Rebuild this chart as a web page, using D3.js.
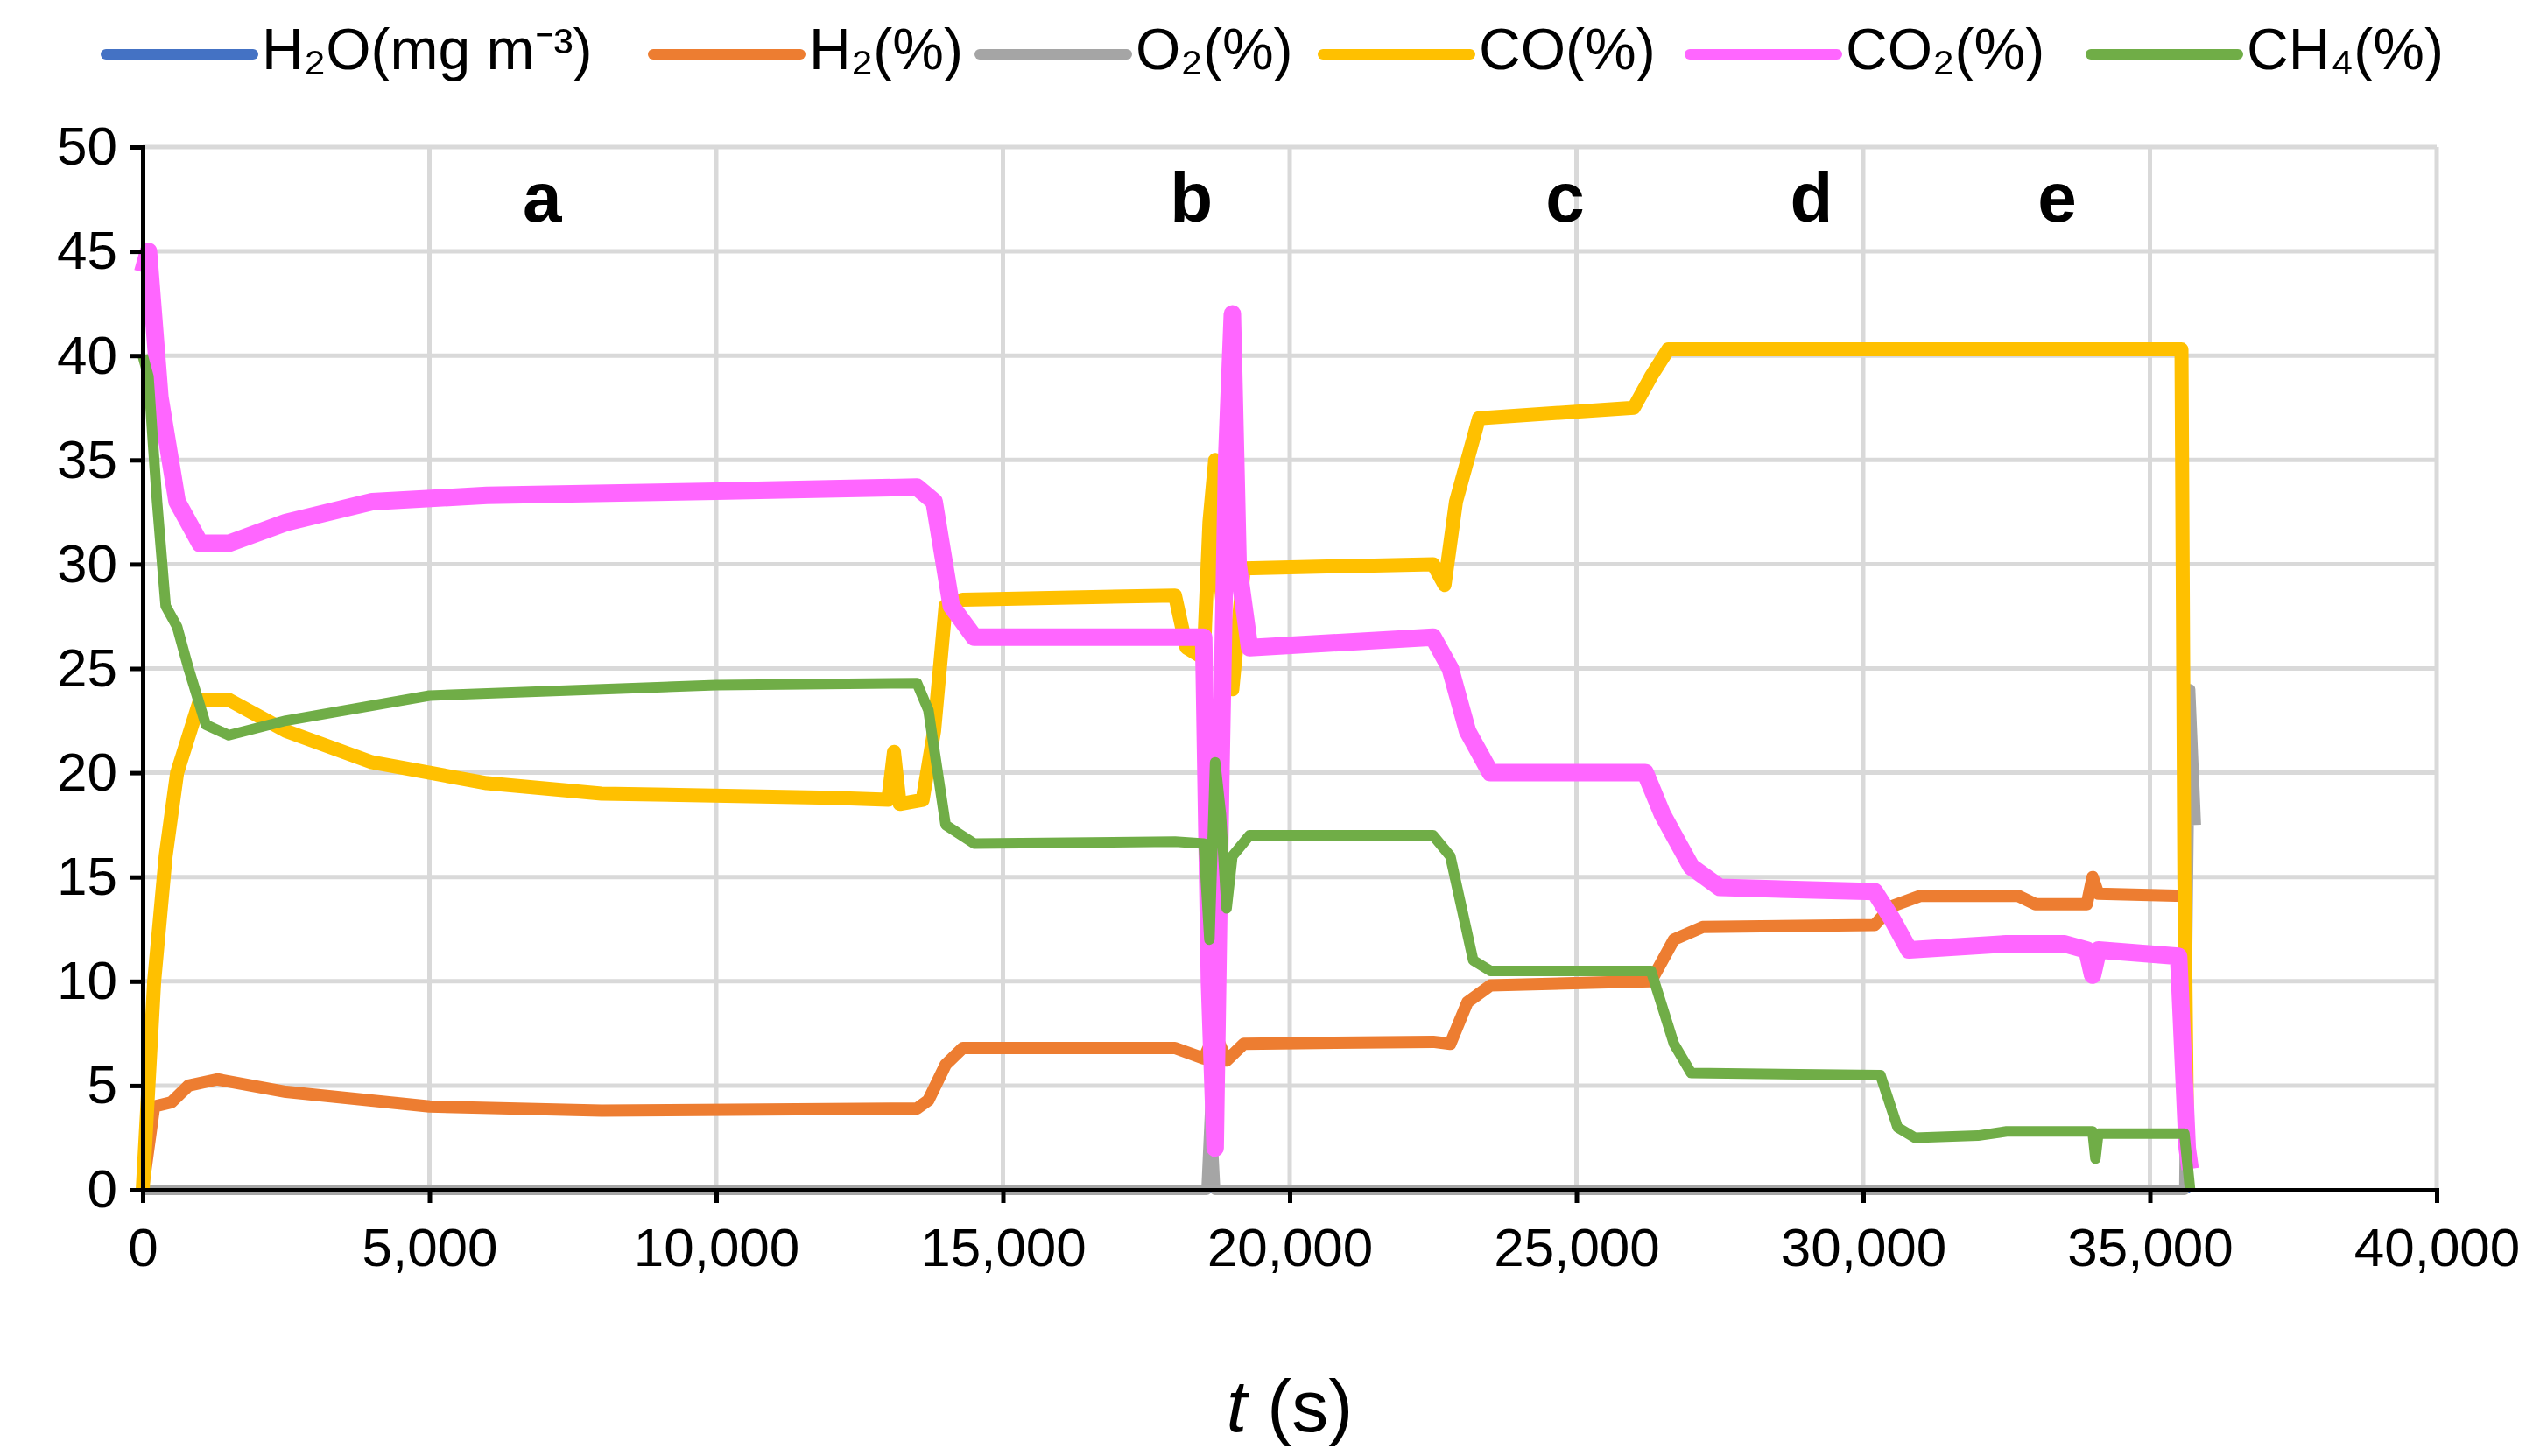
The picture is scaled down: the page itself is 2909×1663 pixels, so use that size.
<!DOCTYPE html>
<html><head><meta charset="utf-8">
<script src="https://cdn.jsdelivr.net/npm/d3@7"></script>
<style>body{margin:0;background:#fff}svg{display:block;font-family:"Liberation Sans",Arial,sans-serif}</style>
</head><body><svg id="c" width="2909" height="1663"></svg>
<script>
const xTicks=[0,5000,10000,15000,20000,25000,30000,35000,40000];
const yTicks=[0,5,10,15,20,25,30,35,40,45,50];
const seriesNames=["H₂O(mg m⁻³)","H₂(%)","O₂(%)","CO(%)","CO₂(%)","CH₄(%)"];
const seriesColors=["#4472c4","#ed7d31","#a5a5a5","#ffc000","#ff66ff","#70ad47"];
const h2o=[[0,0],[18600,0],[35700,0]];
const h2=[[0,0],[200,4],[500,4.2],[800,5],[1300,5.3],[2500,4.7],[5000,4.0],[8000,3.8],[13500,3.9],[13700,4.3],[14000,6],[14300,6.8],[18000,6.8],[18500,6.3],[18700,7.5],[18900,6.2],[19200,7],[22500,7.1],[22800,7],[23100,9],[23500,9.8],[26300,10],[26700,12],[27200,12.6],[30200,12.7],[30500,13.6],[31000,14.1],[32700,14.1],[33000,13.7],[33900,13.7],[34000,15],[34100,14.2],[35600,14.1],[35650,2],[35700,1.8]];
const o2=[[0,0],[18550,0],[18620,4.2],[18700,0],[35600,0],[35700,24],[35800,17.5]];
const co=[[0,0],[200,10],[400,16],[600,20],[1000,23.5],[1500,23.5],[2500,22],[4000,20.5],[6000,19.5],[8000,19],[12000,18.8],[13000,18.7],[13100,21],[13200,18.5],[13600,18.7],[13800,22],[14000,28],[14300,28.3],[18000,28.5],[18200,26],[18500,25.5],[18600,32],[18700,35],[18800,29],[18900,26],[19000,24],[19200,29.8],[22500,30],[22700,29],[22900,33],[23300,37],[26000,37.5],[26300,39],[26600,40.3],[35550,40.3],[35600,15],[35650,2]];
const co2=[[0,44],[100,45],[300,38],[600,33],[1000,31],[1500,31],[2500,32],[4000,33],[6000,33.3],[10000,33.5],[13500,33.7],[13800,33],[14100,28],[14500,26.5],[18000,26.5],[18500,26.5],[18600,10],[18700,2],[18800,20],[18900,35],[19000,42],[19100,30],[19300,26],[22500,26.5],[22800,25],[23100,22],[23500,20],[26200,20],[26500,18],[27000,15.5],[27500,14.5],[30200,14.3],[30500,13],[30800,11.5],[32500,11.8],[33500,11.8],[33900,11.5],[34000,10.3],[34100,11.5],[35500,11.2],[35650,2],[35700,1]];
const ch4=[[0,40],[100,39],[250,33],[400,28],[600,27],[800,25],[1100,22.3],[1500,21.8],[2500,22.5],[5000,23.7],[10000,24.2],[13500,24.3],[13700,23],[14000,17.5],[14500,16.6],[18000,16.7],[18500,16.6],[18600,12],[18700,20.5],[18800,18],[18900,13.5],[19000,16],[19300,17],[22500,17],[22800,16],[23200,11],[23500,10.5],[26300,10.5],[26700,7],[27000,5.6],[30300,5.5],[30600,3],[30900,2.5],[32000,2.6],[32500,2.8],[34000,2.8],[34050,1.5],[34100,2.7],[35600,2.7],[35700,0]];
const labels=["a","b","c","d","e"];
const labelT=[6964,18287,24800,29100,33380];
const labelY=47.3;

const svg=d3.select("#c");
const L=163,R=2783,T=168,B=1359;
const x=d3.scaleLinear().domain([0,40000]).range([L,R]);
const y=d3.scaleLinear().domain([0,50]).range([B,T]);
svg.append("g").selectAll("line").data(yTicks.slice(1)).join("line")
 .attr("x1",L).attr("x2",R).attr("y1",d=>y(d)).attr("y2",d=>y(d)).attr("stroke","#d9d9d9").attr("stroke-width",5);
svg.append("g").selectAll("line").data(xTicks.slice(1)).join("line")
 .attr("x1",d=>x(d)).attr("x2",d=>x(d)).attr("y1",T).attr("y2",B).attr("stroke","#d9d9d9").attr("stroke-width",5);
const all=[h2o,h2,o2,co,co2,ch4];
const widths=[8,14,12,16,20,12];
const line=d3.line().x(d=>x(d[0])).y(d=>y(d[1]));
all.forEach((s,i)=>svg.append("path").attr("d",line(s)).attr("fill","none")
 .attr("stroke",seriesColors[i]).attr("stroke-width",widths[i]).attr("stroke-linejoin","round"));
const ax=svg.append("g").attr("transform",`translate(0,${B})`).call(d3.axisBottom(x).tickValues(xTicks).tickFormat(d3.format(",")).tickSize(15).tickPadding(28));
const ay=svg.append("g").attr("transform",`translate(${L},0)`).call(d3.axisLeft(y).tickValues(yTicks).tickSize(15).tickPadding(14));
[ax,ay].forEach(g=>{g.selectAll("path,line").attr("stroke","#000").attr("stroke-width",5);
 g.selectAll("text").attr("font-size",62).attr("fill","#000").attr("font-family","Liberation Sans, Arial");});
svg.append("g").selectAll("text").data(labels).join("text")
 .attr("x",(d,i)=>x(labelT[i])).attr("y",y(labelY)).attr("text-anchor","middle").attr("dominant-baseline","middle")
 .attr("font-size",80).attr("font-weight","bold").text(d=>d);
const tt=svg.append("text").attr("x",(L+R)/2).attr("y",1635).attr("text-anchor","middle").attr("font-size",84);
tt.append("tspan").attr("font-style","italic").text("t");
tt.append("tspan").text(" (s)");
const legX=[121,746,1119,1511,1930,2388];
const lg=svg.append("g").selectAll("g").data(seriesNames).join("g").attr("transform",(d,i)=>`translate(${legX[i]},62)`);
lg.append("line").attr("x1",0).attr("x2",168).attr("stroke",(d,i)=>seriesColors[i]).attr("stroke-width",12).attr("stroke-linecap","round");
lg.append("text").attr("x",178).attr("dominant-baseline","middle").attr("font-size",66).text(d=>d);
</script></body></html>
